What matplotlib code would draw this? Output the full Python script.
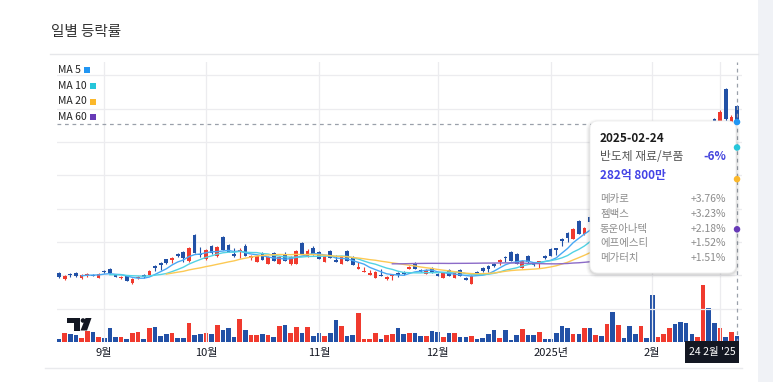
import numpy as np
import pandas as pd
import matplotlib.pyplot as plt
from matplotlib.patches import FancyBboxPatch, Rectangle, Polygon, Circle

plt.rcParams['font.family'] = ['Noto Sans CJK KR', 'DejaVu Sans']

# KRX trading days 2024-08-21 .. 2025-02-24
holidays = ['2024-09-16', '2024-09-17', '2024-09-18', '2024-10-01', '2024-10-03',
            '2024-10-09', '2024-12-25', '2024-12-31', '2025-01-01', '2025-01-27',
            '2025-01-28', '2025-01-29', '2025-01-30']
dates = pd.bdate_range('2024-08-21', '2025-02-24')
dates = dates[~dates.isin(pd.to_datetime(holidays))]

opens = [69, 63, 68, 69, 64, 67, 67.5, 64, 71, 73,
         67, 64, 66, 59, 64, 67, 67, 76, 79, 83,
         82, 88, 90, 81, 107, 88.5, 83, 96, 86, 105,
         97, 88, 90, 96, 84, 80, 89, 78, 89, 78,
         88, 78, 78, 99, 85, 94, 90, 80, 91, 82,
         78, 91, 85, 73, 70, 67, 64, 67, 63, 66,
         69, 70, 73.5, 79, 72, 68, 74, 68, 64, 72,
         64, 72, 64, 58, 70, 74, 76, 78, 80, 85.5,
         90, 88, 74, 86, 79, 80, 86, 93, 94, 103,
         109, 103, 121, 108, 125, 119, 131, 117, 134, 125,
         131, 138, 133, 128, 135, 136, 123, 127, 126, 141,
         145, 156, 165, 158, 166, 200, 223, 208, 253, 219,
         236]
highs = [70, 67, 69, 70, 68, 69, 68, 69, 72, 74,
         68, 66, 67, 64, 66, 68, 72, 77, 80, 83,
         85, 89, 91, 95, 108, 95, 93, 97, 96, 106,
         98, 94, 94, 98, 87, 87, 90, 86, 90, 86,
         90, 86, 92, 100, 93, 96, 91, 87, 92, 87,
         86, 92, 86, 80, 75, 72, 71, 73, 66, 67,
         70, 71, 76, 80, 73, 73, 75, 69, 70, 73,
         70, 73, 65, 67, 71, 75, 77, 79, 83, 86,
         91, 89, 82, 87, 80, 81, 87, 94, 94, 104,
         110, 114, 122, 115, 127, 126, 133, 124, 136, 132,
         133, 140, 135, 136, 137, 138, 130, 134, 132, 143,
         147, 158, 167, 169, 184, 202, 224, 232, 254, 227,
         237]
lows = [64, 62, 65, 65, 63, 65, 66, 64, 69, 68,
        65, 63, 61, 58, 63, 64, 67, 71, 72, 78,
        79, 85, 80, 80, 89, 85, 82, 88, 85, 92,
        90, 85, 84, 86, 82, 80, 82, 78, 81, 78,
        81, 77, 78, 88, 85, 87, 83, 80, 84, 80,
        78, 81, 77, 73, 70, 67, 64, 66, 62, 62,
        65, 67, 73, 73, 70, 68, 69, 66, 64, 66,
        64, 66, 62, 58, 68, 70, 70, 75, 77, 80,
        81, 78, 74, 79, 76, 74, 83, 86, 87, 96,
        100, 103, 108, 107, 118, 117, 125, 115, 126, 123,
        124, 130, 126, 126, 128, 122, 121, 125, 124, 134,
        136, 145, 155, 156, 164, 190, 200, 206, 220, 216,
        218]
closes = [65, 66, 67, 66, 67, 68, 66.5, 68, 70, 69,
          65, 65, 61, 63, 65, 65, 71, 74, 77, 79,
          84, 86, 84, 94, 89, 87, 92, 89, 95, 92,
          90, 86, 92, 86, 86, 86, 82, 85, 81, 85,
          81, 85, 91, 88, 91, 87, 83, 86, 84, 80,
          85, 81, 77, 75, 71, 69, 70, 66, 65, 67,
          67, 68.5, 75, 73, 70.5, 72, 69, 66.5, 69, 66,
          69, 66, 62.5, 66, 68.5, 71, 73, 76, 82, 84,
          81, 78, 81, 80, 77, 81, 84, 86, 92.5, 101,
          104, 113, 108, 114, 120, 124, 127, 122, 128, 130,
          126, 132, 128, 134, 130, 124, 128, 132, 130, 136,
          138, 147, 157, 167, 182, 192, 202, 230, 223, 225,
          220]
# trading value, 억원
volume = [120, 400, 370, 300, 190, 500, 440, 220, 180, 630,
          240, 240, 140, 390, 450, 140, 630, 680, 270, 350,
          400, 180, 180, 870, 300, 370, 400, 370, 770, 530,
          630, 210, 1020, 530, 300, 300, 360, 320, 210, 720,
          770, 400, 690, 390, 690, 260, 390, 270, 390, 990,
          710, 280, 300, 1300, 140, 140, 390, 140, 330, 350,
          620, 350, 390, 390, 280, 260, 500, 460, 240, 390,
          390, 220, 210, 280, 120, 190, 370, 540, 190, 540,
          80, 300, 600, 300, 300, 440, 140, 140, 400, 720,
          640, 370, 370, 630, 630, 300, 260, 820, 1340, 750,
          170, 720, 350, 710, 170, 2120, 210, 360, 630, 800,
          910, 840, 350, 240, 2570, 1520, 840, 630, 240, 440,
          282.08]

ma_periods = [5, 10, 20, 60]
ma_colors = ['#2196f3', '#26c6da', '#fbb82b', '#673ab7']
ma_line_colors = ['#48a8f5', '#52d2e4', '#fcc954', '#8c6bc8']

sector = '반도체 재료/부품'
sector_chg = '-6%'
top_names = ['메카로', '젬백스', '동운아나텍', '에프에스티', '메가터치']
top_chg = ['+3.76%', '+3.23%', '+2.18%', '+1.52%', '+1.51%']

RED = '#f03a2e'
BLUE = '#2251a6'
W, H = 773, 382

fig = plt.figure(figsize=(W / 100, H / 100), dpi=100)
fig.patch.set_facecolor('white')


def fx(x):
    return x / W


def fy(y):
    return 1 - y / H


ax = fig.add_axes([fx(57), fy(342), fx(742) - fx(57), fy(62) - fy(342)])
axv = ax.twinx()
ax.set_zorder(axv.get_zorder() + 1)
ax.patch.set_visible(False)

n = len(closes)
idx = np.arange(n)
o, h, l, c = map(np.array, (opens, highs, lows, closes))
col = np.where(c >= o, RED, BLUE)

# volume
axv.bar(idx, volume, width=0.82, color=col, linewidth=0)
axv.set_ylim(0, 12600)
axv.set_yticks([])
for s in axv.spines.values():
    s.set_visible(False)

# candles
ax.vlines(idx, l, h, colors=col, lw=0.8, zorder=3)
ax.bar(idx, np.maximum(np.abs(c - o), 0.7), bottom=np.minimum(o, c),
       width=0.66, color=col, linewidth=0, zorder=4)

cs = pd.Series(closes)
ma_last = []
for p, lc in zip(ma_periods, ma_line_colors):
    ma = cs.rolling(p).mean()
    ax.plot(idx, ma, color=lc, lw=1.0, zorder=5)
    ma_last.append(ma.iloc[-1])

ax.set_xlim(-0.354, 120.88)
ax.set_ylim(0, 280)
ax.set_yticks(np.arange(1, 9) * 100 / 3)
month_idx = [i for i in range(1, n) if dates[i].month != dates[i - 1].month]
month_lbl = [f'{dates[i].year}년' if dates[i].month == 1 else f'{dates[i].month}월'
             for i in month_idx]
ax.set_xticks(month_idx)
ax.set_xticklabels(month_lbl, fontsize=8, color='#131722')
ax.set_xticks([int(np.where(dates == pd.Timestamp('2025-02-19'))[0][0])], minor=True)
ax.tick_params(axis='both', which='both', length=0, pad=4, labelleft=False, labelright=False)
ax.grid(True, which='both', color='#ececef', lw=0.9)
ax.set_axisbelow(True)
for s in ax.spines.values():
    s.set_visible(False)

# crosshair
ax.axvline(idx[-1], color='#9aa0aa', lw=0.9, ls=(0, (3, 3)), zorder=6)
ax.plot([-0.354, idx[-1]], [ma_last[0] - 2, ma_last[0] - 2], color='#9aa0aa', lw=0.9,
        ls=(0, (3, 3)), zorder=6)

# overlay in pixel coords
ov = fig.add_axes([0, 0, 1, 1])
ov.set_xlim(0, W)
ov.set_ylim(H, 0)
ov.axis('off')
ov.set_zorder(10)

ov.add_patch(Rectangle((758, 0), 15, H, color='#f0f2f6', lw=0))
ov.text(51, 32, '일별 등락률', fontsize=10.5, color='#333333', va='center')
ov.plot([50, 758], [54, 54], color='#e6e7ea', lw=1)
ov.plot([45, 742], [367.5, 367.5], color='#e9eaed', lw=1)

# MA legend
leg_y = [70, 86, 101.5, 117]
fig.canvas.draw()
r = fig.canvas.get_renderer()
for p, mc, yy in zip(ma_periods, ma_colors, leg_y):
    t = ov.text(58, yy, f'MA {p}', fontsize=7.5, color='#222222', va='center')
    bb = t.get_window_extent(renderer=r)
    x1 = bb.x1 + 3
    ov.add_patch(Rectangle((x1, yy - 3), 6, 6, color=mc, lw=0))

# TradingView logo
lc_ = '#131722'
ov.add_patch(Rectangle((67, 318), 13, 4.5, color=lc_, lw=0))
ov.add_patch(Rectangle((73.5, 318), 6.5, 12.5, color=lc_, lw=0))
ov.add_patch(Circle((83, 320.5), 2.3, color=lc_, lw=0))
ov.add_patch(Polygon([(85.5, 318), (91.5, 318), (87, 330.5), (80.5, 330.5)], color=lc_, lw=0))

# tooltip
for k, a in [(4, 0.02), (3, 0.03), (2, 0.04), (1, 0.05)]:
    ov.add_patch(FancyBboxPatch((590 - k, 122 - k + 1), 146 + 2 * k, 151 + 2 * k,
                                boxstyle=f'round,pad=0,rounding_size={8 + k}',
                                fc='black', ec='none', alpha=a))
ov.add_patch(FancyBboxPatch((590, 121), 146, 152, boxstyle='round,pad=0,rounding_size=8',
                            fc='white', ec='#eeeeee', lw=0.6))
ov.text(600, 139, dates[-1].strftime('%Y-%m-%d'), fontsize=8.5, fontweight='bold',
        color='#1b1b1b', va='center')
ov.text(600, 157, sector, fontsize=8.5, color='#555555', va='center', fontweight='medium')
ov.text(726, 157, sector_chg, fontsize=8.5, color='#4444dd', va='center', ha='right',
        fontweight='bold')
v_last = volume[-1]
ov.text(600, 175, f'{int(v_last)}억 {round((v_last - int(v_last)) * 10000)}만', fontsize=8.5,
        color='#4343e6', va='center', fontweight='bold')
for k, (nm, ch) in enumerate(zip(top_names, top_chg)):
    yy = 199 + k * 14.8
    ov.text(600, yy, nm, fontsize=7.5, color='#8c8c8c', va='center')
    ov.text(726, yy, ch, fontsize=7.5, color='#8c8c8c', va='center', ha='right')

# crosshair markers
for v, mc in zip(ma_last, ma_colors):
    ov.scatter([idx[-1]], [v], s=22, color=mc, transform=ax.transData, zorder=20,
               edgecolors='none')

# time label
ov.add_patch(Rectangle((685, 341), 54, 22, color='#131722', lw=0))
d = dates[-1]
ov.text(712, 352, f"{d.day} {d.month}월 '{d.strftime('%y')}", fontsize=7.5, color='white',
        ha='center', va='center')

fig.savefig('out.png', dpi=100, facecolor='white')
plt.close(fig)
